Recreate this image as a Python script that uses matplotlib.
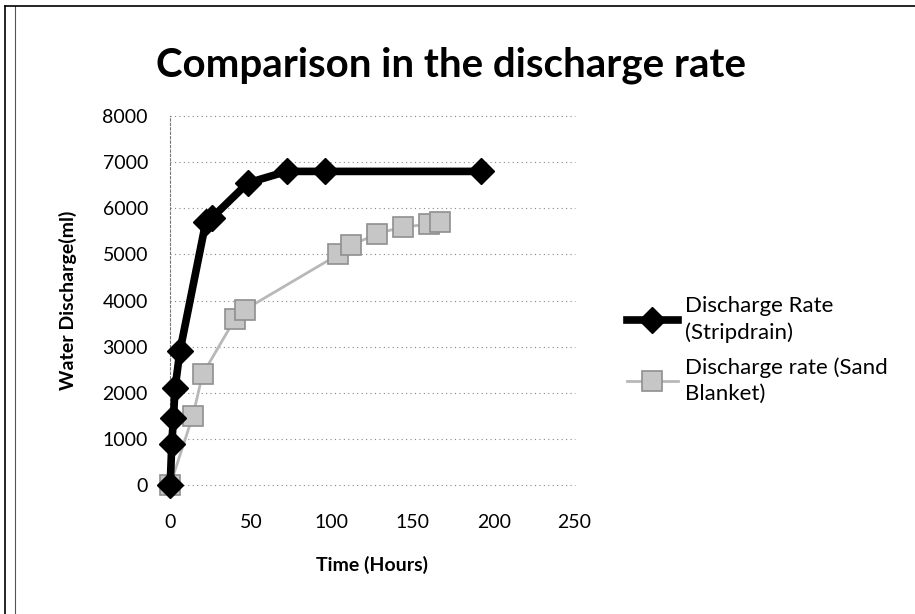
import matplotlib
matplotlib.use("Agg")
import matplotlib.pyplot as plt
from matplotlib.lines import Line2D

plt.rcParams['font.family'] = ['Lato', 'DejaVu Sans']

# time (hours) and water discharge (ml)
strip_hours = [0, 1, 2, 3, 6, 22, 26, 48, 72, 96, 192]
strip_ml = [0, 900, 1450, 2100, 2900, 5700, 5800, 6550, 6800, 6800, 6800]

sand_hours = [0, 14, 20, 40, 46, 104, 112, 128, 144, 160, 167]
sand_ml = [0, 1500, 2400, 3600, 3800, 5000, 5200, 5450, 5600, 5650, 5700]

x_ticks = [0, 50, 100, 150, 200, 250]
y_ticks = [0, 1000, 2000, 3000, 4000, 5000, 6000, 7000, 8000]

fig = plt.figure(figsize=(9.15, 6.14), dpi=100)
ax = fig.add_axes([0.186, 0.21, 0.442, 0.601])

for y in y_ticks:
    ax.axhline(y, color='#888888', lw=0.8, ls=(0, (1, 3)), zorder=0)

ax.plot(sand_hours, sand_ml, color='#b8b8b8', lw=2, marker='s', ms=15,
        mfc='#c6c6c6', mec='#8f8f8f', mew=1.2, zorder=2,
        label='Discharge rate (Sand\nBlanket)')
ax.plot(strip_hours, strip_ml, color='black', lw=5.5, marker='D', ms=13,
        zorder=3, label='Discharge Rate\n(Stripdrain)')

ax.set_xlim(0, 250)
ax.set_ylim(0, 8000)
ax.set_xticks(x_ticks)
ax.set_yticks(y_ticks)
ax.tick_params(length=0, labelsize=14)
ax.tick_params(axis='x', pad=21)
ax.tick_params(axis='y', pad=16)
for s in ['top', 'right', 'bottom']:
    ax.spines[s].set_visible(False)
ax.spines['left'].set_linestyle((0, (2, 2)))
ax.spines['left'].set_color('#777777')
for line in ax.lines:
    line.set_clip_on(False)

ax.set_xlabel('Time (Hours)', fontsize=14, fontweight='bold', labelpad=18)
ax.set_ylabel('Water Discharge(ml)', fontsize=14, fontweight='bold', labelpad=18)
fig.text(0.493, 0.894, 'Comparison in the discharge rate', ha='center',
         va='center', fontsize=29, fontweight='bold')

handles, labels = ax.get_legend_handles_labels()
leg = fig.legend(handles[::-1], labels[::-1], loc='center left',
                 bbox_to_anchor=(0.685, 0.43), frameon=False, fontsize=16,
                 handlelength=2.3, labelspacing=0.65, handletextpad=0.3,
                 borderpad=0, borderaxespad=0)
for t in leg.get_texts():
    t.set_linespacing(1.35)

# scanned page border
fig.add_artist(Line2D([0.006, 0.006], [0, 0.99], color='black', lw=1.2))
fig.add_artist(Line2D([0.016, 0.016], [0, 0.99], color='#555555', lw=0.8))
fig.add_artist(Line2D([0.006, 1], [0.99, 0.99], color='black', lw=1.2))

fig.savefig('out.png', dpi=100)
